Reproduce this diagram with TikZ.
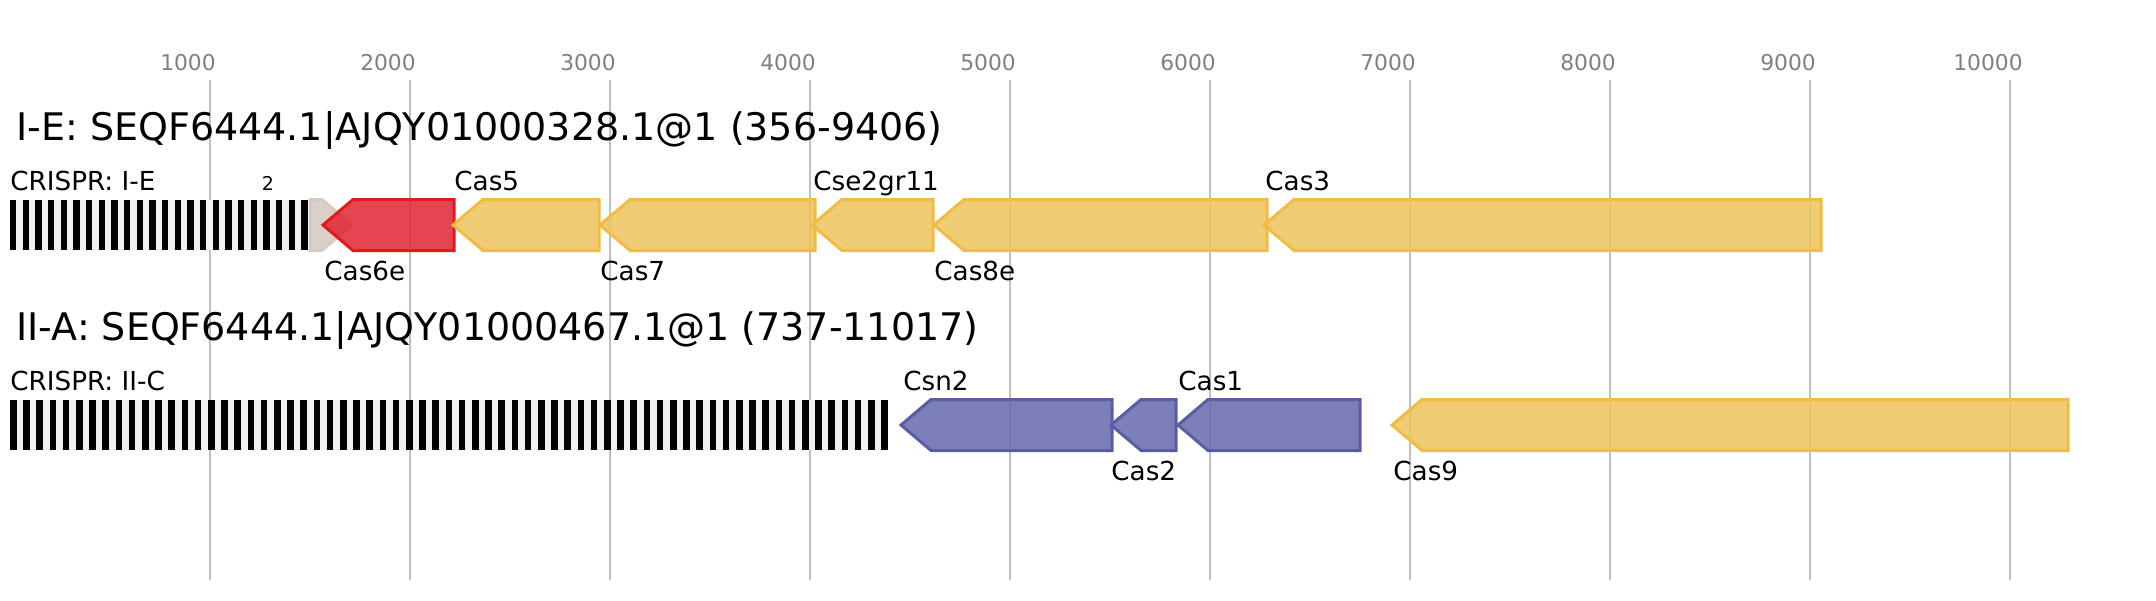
\documentclass[tikz,border=0pt]{standalone}
\usepackage{fontspec}
\setmainfont{DejaVu Sans}

\definecolor{gridgray}{RGB}{192,192,192}
\definecolor{tickgray}{RGB}{128,128,128}
\definecolor{spacergray}{RGB}{240,240,240}
\definecolor{yellowfill}{RGB}{237,195,92}
\definecolor{yellowline}{RGB}{240,188,66}
\definecolor{bluefill}{RGB}{101,104,171}
\definecolor{blueline}{RGB}{90,93,166}
\definecolor{redfill}{RGB}{225,36,49}
\definecolor{redline}{RGB}{227,26,28}
\definecolor{taupefill}{RGB}{210,200,192}
\definecolor{taupeline}{RGB}{214,203,195}

\tikzset{
    gridline/.style={draw=gridgray, line width=1pt},
    ticklabel/.style={text=tickgray, font=\fontsize{10.9}{13}\selectfont, inner sep=0pt, anchor=base},
    tracktitle/.style={font=\fontsize{19}{23}\selectfont, inner sep=0pt, anchor=base west},
    genelabel/.style={font=\fontsize{13.1}{16}\selectfont, inner sep=0pt, anchor=base west},
    gene/.style={line width=1.5pt, line join=miter, fill opacity=0.85},
    geneYellow/.style={gene, draw=yellowline, fill=yellowfill},
    geneBlue/.style={gene, draw=blueline, fill=bluefill},
    geneRed/.style={gene, draw=redline, fill=redfill},
    geneTaupe/.style={gene, draw=taupeline, fill=taupefill},
}

\begin{document}
\begin{tikzpicture}[x=0.5pt, y=-0.5pt]
    % variables
    \pgfmathsetmacro{\vHead}{30}
    \useasboundingbox (0,0) rectangle (2156,600);

    % ruler
    \foreach \i in {1,...,10} {
        \draw[gridline] ({9.7+200*\i},80) -- ({9.7+200*\i},580);
        \node[ticklabel] (tick\i) at ({9.7+200*\i-21.7},70) {\i000};
    }

    % track I-E
    \node[tracktitle] (titleIE) at (16,140) {I-E: SEQF6444.1|AJQY01000328.1@1 (356-9406)};
    \node[genelabel] (crisprIE) at (10,190) {CRISPR: I-E};
    \node[inner sep=0pt, anchor=base, font=\fontsize{9.5}{11}\selectfont] (countIE) at (268,190) {2};
    \fill[spacergray] (10,200) rectangle (308,250);
    \foreach \i in {0,...,23}
        \fill[black] ({10+\i*12.67},200) rectangle ++(6.3,50);

    \draw[geneTaupe] (310,199.5) -- (322,199.5) -- (352,225) -- (322,250.5) -- (310,250.5) -- cycle;

    \foreach \vTip/\vEnd/\sty in {323/454/geneRed, 453/599/geneYellow, 600/815/geneYellow,
                                  812/933/geneYellow, 934/1267/geneYellow, 1264/1821/geneYellow}
        \draw[\sty] (\vTip,225) -- ({\vTip+\vHead},199.5) -- (\vEnd,199.5)
                    -- (\vEnd,250.5) -- ({\vTip+\vHead},250.5) -- cycle;

    \node[genelabel] (cas6e) at (324,280) {Cas6e};
    \node[genelabel] (cas5) at (454,190) {Cas5};
    \node[genelabel] (cas7) at (600,280) {Cas7};
    \node[genelabel] (cse2) at (813,190) {Cse2gr11};
    \node[genelabel] (cas8e) at (934,280) {Cas8e};
    \node[genelabel] (cas3) at (1265,190) {Cas3};

    % track II-A
    \node[tracktitle] (titleIIA) at (16,340) {II-A: SEQF6444.1|AJQY01000467.1@1 (737-11017)};
    \node[genelabel] (crisprIIC) at (10,390) {CRISPR: II-C};
    \fill[spacergray] (10,400) rectangle (888,450);
    \foreach \i in {0,...,66}
        \fill[black] ({10+\i*13.2},400) rectangle ++(6.6,50);

    \foreach \vTip/\vEnd/\sty in {901/1112/geneBlue, 1111/1176/geneBlue,
                                  1178/1360/geneBlue, 1392/2068/geneYellow}
        \draw[\sty] (\vTip,425) -- ({\vTip+\vHead},399.5) -- (\vEnd,399.5)
                    -- (\vEnd,450.5) -- ({\vTip+\vHead},450.5) -- cycle;

    \node[genelabel] (csn2) at (903,390) {Csn2};
    \node[genelabel] (cas2) at (1111,480) {Cas2};
    \node[genelabel] (cas1) at (1178,390) {Cas1};
    \node[genelabel] (cas9) at (1393,480) {Cas9};
\end{tikzpicture}
\end{document}
